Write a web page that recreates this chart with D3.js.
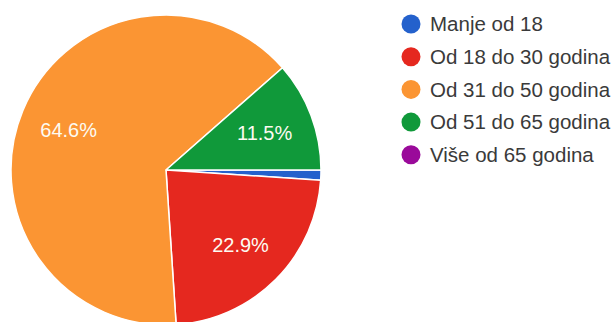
<!DOCTYPE html>
<html>
<head>
<meta charset="utf-8">
<script src="https://cdn.jsdelivr.net/npm/d3@7"></script>
<style>
  html, body { margin: 0; padding: 0; background: #ffffff; }
  svg { display: block; }
</style>
</head>
<body>
<svg id="chart" width="616" height="322"></svg>
<script>
// Age groups of respondents (answer counts)
const categories = ["Manje od 18", "Od 18 do 30 godina", "Od 31 do 50 godina", "Od 51 do 65 godina", "Više od 65 godina"];
const counts = [1, 22, 62, 11, 0];
const colors = ["#2461cc", "#e5281f", "#fb9533", "#10993a", "#9a0a9a"];

const svg = d3.select("#chart");
const cx = 166, cy = 170, R = 155;

const total = d3.sum(counts);
const data = categories.map((c, i) => ({ name: c, value: counts[i], color: colors[i] }));

// Slices run clockwise, starting at 3 o'clock
const pie = d3.pie()
  .value(d => d.value)
  .sort(null)
  .startAngle(Math.PI / 2)
  .endAngle(Math.PI / 2 + 2 * Math.PI);

const arcs = pie(data);
const arc = d3.arc().innerRadius(0).outerRadius(R);
const labelArc = d3.arc().innerRadius(R * 0.68).outerRadius(R * 0.68);

const g = svg.append("g").attr("transform", `translate(${cx},${cy})`);

g.selectAll("path.slice")
  .data(arcs.filter(a => a.value > 0))
  .join("path")
  .attr("class", "slice")
  .attr("d", arc)
  .attr("fill", d => d.data.color)
  .attr("stroke", "#ffffff")
  .attr("stroke-width", 1.5)
  .attr("stroke-linejoin", "round");

// Percentage labels for slices large enough to hold text
const fmt = v => (v / total * 100).toFixed(1) + "%";
g.selectAll("text.pct")
  .data(arcs.filter(a => a.value / total > 0.05))
  .join("text")
  .attr("class", "pct")
  .attr("transform", d => `translate(${labelArc.centroid(d)})`)
  .attr("text-anchor", "middle")
  .attr("dy", "0.36em")
  .attr("font-family", "'Liberation Sans', Arial, sans-serif")
  .attr("font-size", 20)
  .attr("fill", "#fdfbf2")
  .text(d => fmt(d.value));

// Legend
const legend = svg.append("g").attr("transform", "translate(411,24)");
const row = legend.selectAll("g.item")
  .data(data)
  .join("g")
  .attr("class", "item")
  .attr("transform", (d, i) => `translate(0,${i * 32.7})`);

row.append("circle")
  .attr("r", 9.5)
  .attr("fill", d => d.color);

row.append("text")
  .attr("x", 19)
  .attr("dy", "0.36em")
  .attr("font-family", "'Liberation Sans', Arial, sans-serif")
  .attr("font-size", 20.5)
  .attr("fill", "#3a3a3a")
  .text(d => d.name);
</script>
</body>
</html>
